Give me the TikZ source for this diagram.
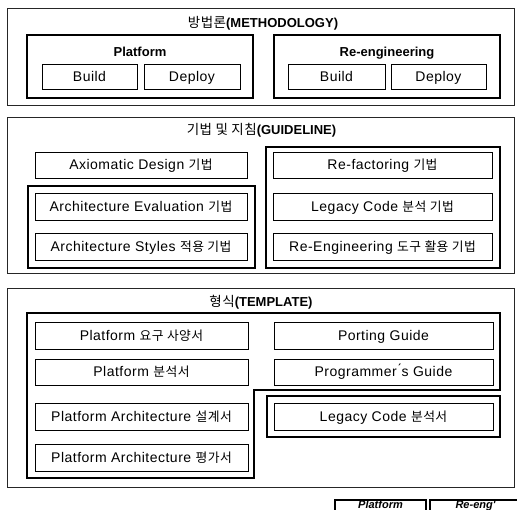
\documentclass[tikz,border=0pt]{standalone}
\usepackage{fontspec}
\setmainfont{Liberation Sans}[LetterSpace=3.5]
\newfontfamily\krf{Noto Sans CJK KR}[LetterSpace=3.5]
\newfontfamily\titlef{Liberation Sans}
\newcommand\kr[1]{{\krf\fontsize{12.8}{14}\selectfont #1}}
\newcommand\krt[1]{{\krf\mdseries\fontsize{13.5}{15}\selectfont #1}}
\begin{document}
\begin{tikzpicture}[x=1pt,y=-1pt,
  section/.style={draw=black!85,line width=0.8pt,inner sep=0pt},
  group/.style={draw=black,line width=1.8pt,inner sep=0pt},
  box/.style={draw=black,line width=0.9pt,inner sep=0pt,text height=10pt,text depth=0pt,font=\fontsize{14}{16}\selectfont},
  title/.style={inner sep=0pt,text height=10pt,text depth=0pt,font=\titlef\bfseries\fontsize{13}{15}\selectfont},
  gtitle/.style={inner sep=0pt,text height=9.5pt,text depth=0pt,font=\titlef\bfseries\fontsize{13}{15}\selectfont},
  legbox/.style={draw=black,line width=1.4pt,inner sep=0pt,minimum width=91pt,minimum height=22pt},
  legtxt/.style={inner sep=0pt,text height=8pt,text depth=0pt,font=\titlef\bfseries\itshape\fontsize{11}{13}\selectfont}]
\useasboundingbox (0,0) rectangle (517,510);
\clip (0,0) rectangle (517,510);
\fill[white] (0,0) rectangle (517,510);

% ---------- Section 1: METHODOLOGY
\node[section,minimum width=507pt,minimum height=97pt] (s1) at (260.5,56.5) {};
\node[title] (t1) at (263,23) {\krt{방법론}(METHODOLOGY)};
\node[group,minimum width=226pt,minimum height=63pt] (g1a) at (140,66.5) {};
\node[gtitle] (g1at) at (140,52) {Platform};
\node[box,minimum width=95pt,minimum height=25pt] (b1) at (89.5,76.5) {Build};
\node[box,minimum width=96pt,minimum height=25pt] (d1) at (192,76.5) {Deploy};
\node[group,minimum width=226pt,minimum height=63pt] (g1b) at (387,66.5) {};
\node[gtitle] (g1bt) at (387,52) {Re-engineering};
\node[box,minimum width=97pt,minimum height=25pt] (b2) at (336.5,76.5) {Build};
\node[box,minimum width=95pt,minimum height=25pt] (d2) at (438.5,76.5) {Deploy};

% ---------- Section 2: GUIDELINE
\node[section,minimum width=507pt,minimum height=156pt] (s2) at (260.5,195) {};
\node[title] (t2) at (261.5,130) {\krt{기법 및 지침}(GUIDELINE)};
\node[group,minimum width=227pt,minimum height=82pt] (g2a) at (141.5,227) {};
\node[group,minimum width=234pt,minimum height=121pt] (g2b) at (383,207.5) {};
\node[box,minimum width=212pt,minimum height=26pt] (ax) at (141,165) {Axiomatic Design \kr{기법}};
\node[box,minimum width=212pt,minimum height=27pt] (ae) at (141,206.5) {Architecture Evaluation \kr{기법}};
\node[box,minimum width=212pt,minimum height=27pt] (as) at (141,246.5) {Architecture Styles \kr{적용 기법}};
\node[box,minimum width=219pt,minimum height=26pt] (rf) at (382.5,165) {Re-factoring \kr{기법}};
\node[box,minimum width=219pt,minimum height=27pt] (lc) at (382.5,206.5) {Legacy Code \kr{분석 기법}};
\node[box,minimum width=219pt,minimum height=27pt] (re) at (382.5,246.5) {Re-Engineering \kr{도구 활용 기법}};

% ---------- Section 3: TEMPLATE
\node[section,minimum width=507pt,minimum height=199pt] (s3) at (260.5,387.5) {};
\node[title] (t3) at (261,302) {\krt{형식}(TEMPLATE)};
\coordinate (l1) at (27,313);
\coordinate (l2) at (500,313);
\coordinate (l3) at (500,390);
\coordinate (l4) at (254,390);
\coordinate (l5) at (254,478);
\coordinate (l6) at (27,478);
\draw[line width=1.8pt,line join=miter] (l1) -- (l2) -- (l3) -- (l4) -- (l5) -- (l6) -- cycle;
\node[group,minimum width=233pt,minimum height=41pt] (g3b) at (383.5,416.5) {};
\node[box,minimum width=213pt,minimum height=27pt] (p1) at (141.5,335.5) {Platform \kr{요구 사양서}};
\node[box,minimum width=213pt,minimum height=26pt] (p2) at (141.5,372) {Platform \kr{분석서}};
\node[box,minimum width=213pt,minimum height=27pt] (p3) at (141.5,416.5) {Platform Architecture \kr{설계서}};
\node[box,minimum width=213pt,minimum height=27pt] (p4) at (141.5,457.5) {Platform Architecture \kr{평가서}};
\node[box,minimum width=219pt,minimum height=27pt] (pg) at (383.5,335.5) {Porting Guide};
\node[box,minimum width=219pt,minimum height=26pt] (pm) at (383.5,372) {Programmer\'{}s Guide};
\node[box,minimum width=219pt,minimum height=27pt] (lg) at (383.5,416.5) {Legacy Code \kr{분석서}};

% ---------- Legend
\node[legbox] (lb1) at (380.5,511) {};
\node[legbox] (lb2) at (475.5,511) {};
\node[legtxt] (lt1) at (380.5,504.5) {Platform};
\node[legtxt] (lt2) at (475.5,504.5) {Re-eng'};
\end{tikzpicture}
\end{document}
